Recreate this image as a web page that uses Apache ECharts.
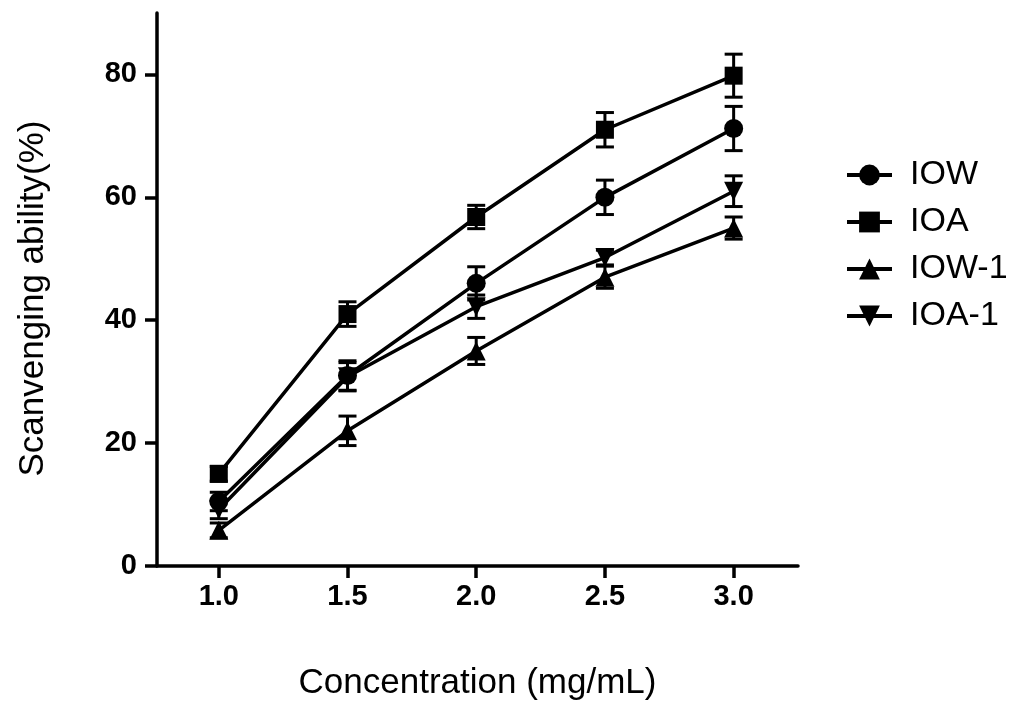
<!DOCTYPE html>
<html>
<head>
<meta charset="utf-8">
<script src="https://cdn.jsdelivr.net/npm/echarts@6/dist/echarts.min.js"></script>
<style>
  html, body { margin: 0; padding: 0; background: #fff; }
  #chart { width: 1024px; height: 718px; }
</style>
</head>
<body>
<div id="chart"></div>
<script>
// concentration (mg/mL)
const concentrations = [1.0, 1.5, 2.0, 2.5, 3.0];
const xTicks = [1.0, 1.5, 2.0, 2.5, 3.0];
const yTicks = [0, 20, 40, 60, 80];

// scavenging ability (%) and error (+/-)
const iowMean = [10.5, 31, 46, 60, 71.2];
const iowErr = [1.5, 2.4, 2.7, 2.8, 3.6];
const ioaMean = [15, 41, 56.8, 71, 79.8];
const ioaErr = [1.2, 2, 1.9, 2.8, 3.5];
const iow1Mean = [5.8, 22, 35, 47, 55];
const iow1Err = [1.2, 2.4, 2.2, 1.8, 1.8];
const ioa1Mean = [9.2, 30.8, 42.2, 50.2, 61];
const ioa1Err = [1.5, 2.3, 1.9, 1.2, 2.5];

const seriesDefs = [
  { name: "IOW", mean: iowMean, err: iowErr, symbol: "circle", rotate: 0, size: 19 },
  { name: "IOA", mean: ioaMean, err: ioaErr, symbol: "rect", rotate: 0, size: 18 },
  { name: "IOW-1", mean: iow1Mean, err: iow1Err, symbol: "triangle", rotate: 0, size: 19 },
  { name: "IOA-1", mean: ioa1Mean, err: ioa1Err, symbol: "triangle", rotate: 180, size: 19 }
];

const font = "Liberation Sans, Arial, sans-serif";

function errorBarItem(params, api) {
  const x = api.value(0);
  const top = api.coord([x, api.value(2)]);
  const bottom = api.coord([x, api.value(1)]);
  const half = 9;
  const style = { stroke: "#000", lineWidth: 3 };
  return {
    type: "group",
    children: [
      { type: "line", shape: { x1: top[0], y1: top[1], x2: bottom[0], y2: bottom[1] }, style: style },
      { type: "line", shape: { x1: top[0] - half, y1: top[1], x2: top[0] + half, y2: top[1] }, style: style },
      { type: "line", shape: { x1: bottom[0] - half, y1: bottom[1], x2: bottom[0] + half, y2: bottom[1] }, style: style }
    ]
  };
}

let series = [];
seriesDefs.forEach(function (d) {
  series.push({
    name: d.name,
    type: "line",
    data: concentrations.map(function (c, i) { return [c, d.mean[i]]; }),
    symbol: d.symbol,
    symbolRotate: d.rotate,
    symbolSize: d.size,
    showAllSymbol: true,
    lineStyle: { color: "#000", width: 3.5 },
    itemStyle: { color: "#000" },
    z: 3
  });
  series.push({
    name: d.name + " err",
    type: "custom",
    renderItem: errorBarItem,
    data: concentrations.map(function (c, i) { return [c, d.mean[i] - d.err[i], d.mean[i] + d.err[i]]; }),
    encode: { x: 0, y: [1, 2] },
    z: 2,
    silent: true
  });
});

let option = {
  animation: false,
  backgroundColor: "#fff",
  grid: { left: 157, right: 226, top: 13, bottom: 152 },
  legend: {
    orient: "vertical",
    left: 840,
    top: 153,
    itemWidth: 45,
    itemHeight: 26,
    itemGap: 13,
    data: seriesDefs.map(function (d) { return d.name; }),
    lineStyle: { width: 4 },
    textStyle: { color: "#000", fontSize: 34, fontFamily: font, lineHeight: 34, padding: [0, 0, 0, 13] }
  },
  xAxis: {
    type: "value",
    min: 0.76,
    max: 3.25,
    name: "Concentration (mg/mL)",
    nameLocation: "middle",
    nameGap: 100,
    nameTextStyle: { color: "#000", fontSize: 35, fontFamily: font },
    splitLine: { show: false },
    axisLine: { onZero: false, lineStyle: { color: "#000", width: 3.5 } },
    axisTick: { customValues: xTicks, length: 12, lineStyle: { color: "#000", width: 3.5 } },
    axisLabel: {
      customValues: xTicks,
      margin: 16,
      color: "#000",
      fontSize: 29,
      fontWeight: "bold",
      fontFamily: font,
      formatter: function (v) { return v.toFixed(1); }
    }
  },
  yAxis: {
    type: "value",
    min: 0,
    max: 90,
    name: "Scanvenging ability(%)",
    nameLocation: "middle",
    nameRotate: 90,
    nameGap: 106,
    nameTextStyle: { color: "#000", fontSize: 35, fontFamily: font, padding: [0, 18, 0, 0] },
    splitLine: { show: false },
    axisLine: { show: true, lineStyle: { color: "#000", width: 3.5 } },
    axisTick: { show: true, customValues: yTicks, length: 12, lineStyle: { color: "#000", width: 3.5 } },
    axisLabel: {
      customValues: yTicks,
      margin: 20,
      color: "#000",
      fontSize: 29,
      fontWeight: "bold",
      fontFamily: font
    }
  },
  series: series
};

const chart = echarts.init(document.getElementById("chart"));
chart.setOption(option);
</script>
</body>
</html>
